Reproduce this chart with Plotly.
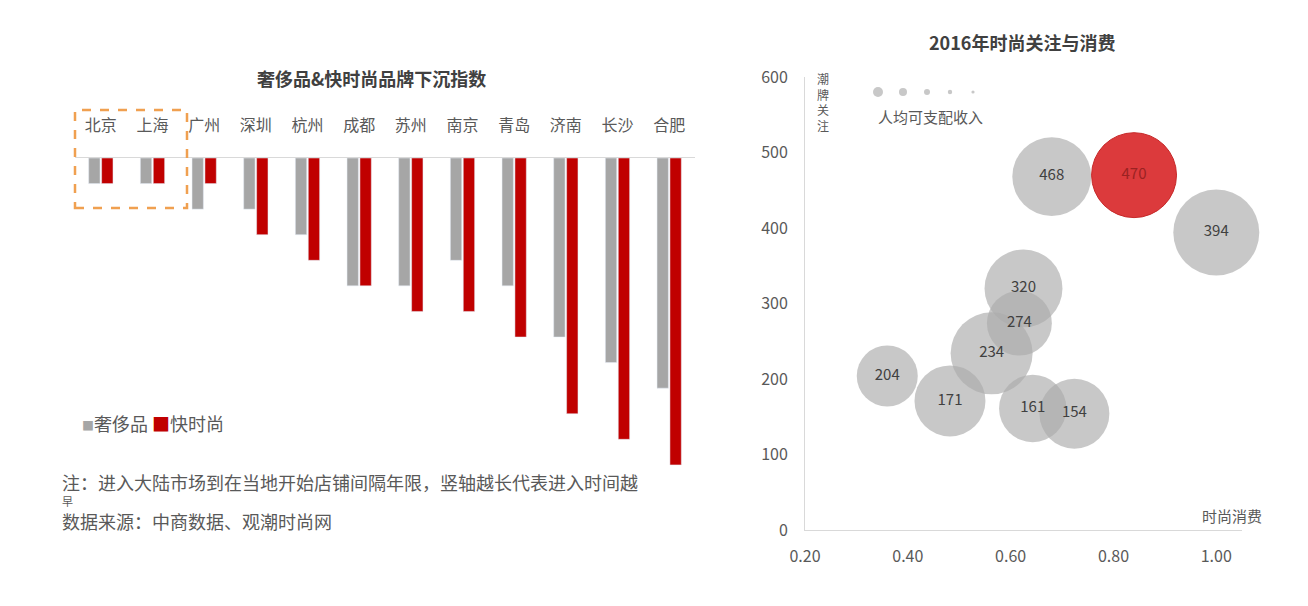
import plotly.graph_objects as go

# the page body adds an 8px margin, so the figure is drawn 8px in from the corner
OFF = 8
W, H = 1308 - 2 * OFF, 606 - 2 * OFF

# left chart: years between entering mainland China and opening a store in the city
cities = ['北京', '上海', '广州', '深圳', '杭州', '成都', '苏州', '南京', '青岛', '济南', '长沙', '合肥']
luxury = [1, 1, 2, 2, 3, 5, 5, 4, 5, 7, 8, 9]
fast_fashion = [1, 1, 1, 3, 4, 5, 6, 6, 7, 10, 11, 12]

# right chart: fashion consumption vs. trend attention, bubble = disposable income
consume = [0.68, 0.84, 1.00, 0.625, 0.617, 0.563, 0.36, 0.482, 0.643, 0.724]
attention = [468, 470, 394, 320, 274, 234, 204, 171, 161, 154]
income = [48000, 55600, 57000, 46800, 32500, 51800, 28700, 38800, 35000, 37700]
highlight = 1  # index of the red bubble

FONT = 'Noto Sans CJK SC, Noto Sans, sans-serif'
GREY_TXT = '#595959'


def px(x):
    return (x - OFF) / W


def py(y):
    return 1 - (y - OFF) / H


fig = go.Figure()

fig.add_trace(go.Bar(x=cities, y=luxury, name='奢侈品', marker_color='#a6a6a6',
                     xaxis='x', yaxis='y'))
fig.add_trace(go.Bar(x=cities, y=fast_fashion, name='快时尚', marker_color='#c00000',
                     xaxis='x', yaxis='y'))

colors = ['rgba(172,172,172,0.66)'] * len(consume)
colors[highlight] = '#dc3a3c'
line_cols = ['rgba(0,0,0,0)'] * len(consume)
line_cols[highlight] = '#c62828'
txt_cols = ['#404040'] * len(consume)
txt_cols[highlight] = '#9a2222'

fig.add_trace(go.Scatter(
    x=consume, y=attention, mode='markers+text', text=[str(v) for v in attention],
    textposition='middle center', textfont=dict(size=15, color=txt_cols, family=FONT),
    marker=dict(size=income, sizemode='area', sizeref=2 * max(income) / (86 ** 2),
                color=colors, opacity=1, line=dict(width=1, color=line_cols)),
    xaxis='x2', yaxis='y2', showlegend=False, cliponaxis=False))

fig.update_layout(
    width=W, height=H, margin=dict(l=0, r=0, t=0, b=0, autoexpand=False),
    paper_bgcolor='white', plot_bgcolor='white',
    font=dict(family=FONT, color=GREY_TXT),
    showlegend=False, barmode='group', bargap=0.5, bargroupgap=0.12,
    xaxis=dict(domain=[px(75), px(695)], side='top', showline=True, linecolor='#d9d9d9',
               ticks='', ticklabelstandoff=20, tickfont=dict(size=16, color=GREY_TXT),
               showgrid=False, automargin=False),
    yaxis=dict(domain=[py(470), py(158)], range=[12.2, 0], visible=False, showgrid=False,
               automargin=False),
    xaxis2=dict(domain=[px(805), px(1242)], range=[0.2, 1.05], anchor='y2',
                tick0=0.2, dtick=0.2, tickformat='.2f', showline=True, linecolor='#d9d9d9',
                showgrid=False, zeroline=False, ticks='', ticklabelstandoff=12,
                tickfont=dict(size=16, color=GREY_TXT), automargin=False),
    yaxis2=dict(domain=[py(530), py(77)], range=[0, 600], anchor='x2', dtick=100,
                showline=True, linecolor='#d9d9d9', showgrid=False, zeroline=False,
                ticks='', ticklabelstandoff=13, tickfont=dict(size=16, color=GREY_TXT),
                automargin=False),
)

ann = [
    dict(x=px(372), y=py(78), text='<b>奢侈品&快时尚品牌下沉指数</b>',
         font=dict(size=18, color='#404040')),
    dict(x=px(1022), y=py(42), text='<b>2016年时尚关注与消费</b>',
         font=dict(size=18, color='#404040')),
    dict(x=px(80), y=py(423), xanchor='left',
         text="<span style='color:#a6a6a6;font-size:12px'>■</span>奢侈品 <span style='color:#c00000'>■</span>快时尚",
         font=dict(size=18, color=GREY_TXT)),
    dict(x=px(60), y=py(482), xanchor='left',
         text='注：进入大陆市场到在当地开始店铺间隔年限，竖轴越长代表进入时间越',
         font=dict(size=18, color=GREY_TXT)),
    dict(x=px(60), y=py(501), xanchor='left', text='早', font=dict(size=11, color=GREY_TXT)),
    dict(x=px(60), y=py(521), xanchor='left', text='数据来源：中商数据、观潮时尚网',
         font=dict(size=18, color=GREY_TXT)),
    dict(x=px(823), y=py(102), text='潮<br>牌<br>关<br>注', font=dict(size=12, color=GREY_TXT)),
    dict(x=px(1232), y=py(515), text='时尚消费', font=dict(size=15, color=GREY_TXT)),
    dict(x=px(930), y=py(117), text='人均可支配收入', font=dict(size=15, color=GREY_TXT)),
]
for a in ann:
    a.setdefault('xanchor', 'center')
    a.update(xref='paper', yref='paper', yanchor='middle', showarrow=False)
fig.update_layout(annotations=ann)

shapes = [dict(type='rect', xref='paper', yref='paper', x0=px(75), x1=px(187),
               y0=py(208), y1=py(110), line=dict(color='#f0a050', width=2.5, dash='dash'))]
# size legend dots for the bubble chart
for cx, r in [(878, 5), (903, 4), (927, 3), (950, 2.2), (973, 1.6)]:
    shapes.append(dict(type='circle', xref='paper', yref='paper',
                       x0=px(cx - r), x1=px(cx + r), y0=py(92 + r), y1=py(92 - r),
                       fillcolor='#c8c8c8', line=dict(width=0)))
fig.update_layout(shapes=shapes)

fig.write_html('out.html')
